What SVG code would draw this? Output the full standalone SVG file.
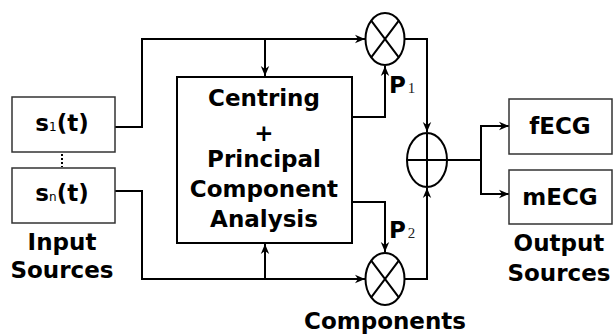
<svg xmlns="http://www.w3.org/2000/svg" width="614" height="336" viewBox="0 0 614 336">
<style>
.box{fill:#fff;stroke:#333;stroke-width:1.5}
.main{fill:#fff;stroke:#000;stroke-width:2}
.ln{fill:none;stroke:#000;stroke-width:2}
.op{fill:#fff;stroke:#000;stroke-width:2}
.t{font-family:"DejaVu Sans",Verdana,sans-serif;font-weight:bold;font-size:23px;fill:#000;text-anchor:middle}
.sub{font-family:"DejaVu Sans",Verdana,sans-serif;font-weight:normal;font-size:12px}
.psub{font-family:"Liberation Serif","Times New Roman",serif;font-weight:normal;font-size:15px;fill:#222}
</style>
<defs>
<marker id="ar" viewBox="0 0 10 10" refX="10" refY="5" markerWidth="10" markerHeight="10" markerUnits="userSpaceOnUse" orient="auto">
<path d="M0,0.8 L10,5 L0,9.2 L3,5 Z" fill="#000"/>
</marker>
</defs>
<g id="connectors">
<path class="ln" d="M115,127 H142 V39 H365" marker-end="url(#ar)"/>
<path class="ln" d="M265,39 V76" marker-end="url(#ar)"/>
<path class="ln" d="M115,191 H142 V279 H365" marker-end="url(#ar)"/>
<path class="ln" d="M265,279 V244" marker-end="url(#ar)"/>
<path class="ln" d="M352,117 H385 V66" marker-end="url(#ar)"/>
<path class="ln" d="M352,202 H385 V252" marker-end="url(#ar)"/>
<path class="ln" d="M405,39 H427 V132" marker-end="url(#ar)"/>
<path class="ln" d="M405,279 H427 V188" marker-end="url(#ar)"/>
<path class="ln" d="M447,160 H481 V126 H509" marker-end="url(#ar)"/>
<path class="ln" d="M481,160 V194 H509" marker-end="url(#ar)"/>
<path d="M62,154 V167" fill="none" stroke="#000" stroke-width="2" stroke-dasharray="2,2"/>
</g>
<g id="s1">
<rect class="box" x="12" y="97" width="103" height="55"/>
<text class="t" x="62" y="131" font-size="24">s<tspan class="sub">1</tspan>(t)</text>
</g>
<g id="sn">
<rect class="box" x="12" y="168" width="103" height="55"/>
<text class="t" x="62" y="201" font-size="24">s<tspan class="sub">n</tspan>(t)</text>
</g>
<g id="input-label">
<text class="t" x="62" y="250" font-size="24">Input</text>
<text class="t" x="62" y="278" font-size="24">Sources</text>
</g>
<g id="pca">
<rect class="main" x="177" y="77" width="175" height="166"/>
<text class="t" x="264" y="106">Centring</text>
<text class="t" x="264" y="141">+</text>
<text class="t" x="264" y="167">Principal</text>
<text class="t" x="264" y="197">Component</text>
<text class="t" x="264" y="227">Analysis</text>
</g>
<g id="mult1">
<ellipse class="op" cx="385" cy="39" rx="19.5" ry="26"/>
<path class="ln" d="M371.2,20.6 L398.8,57.4 M398.8,20.6 L371.2,57.4"/>
<text class="t" x="389" y="93" style="text-anchor:start">P<tspan class="psub" dx="2">1</tspan></text>
</g>
<g id="mult2">
<ellipse class="op" cx="385" cy="279" rx="19.5" ry="26"/>
<path class="ln" d="M371.2,260.6 L398.8,297.4 M398.8,260.6 L371.2,297.4"/>
<text class="t" x="389" y="238" style="text-anchor:start">P<tspan class="psub" dx="2">2</tspan></text>
<text class="t" x="385" y="329">Components</text>
</g>
<g id="adder">
<ellipse class="op" cx="427" cy="160" rx="20" ry="27"/>
<path class="ln" d="M407,160 H447 M427,133 V187"/>
</g>
<g id="fecg">
<rect class="box" x="509" y="99" width="103" height="55"/>
<text class="t" x="560" y="134">fECG</text>
</g>
<g id="mecg">
<rect class="box" x="509" y="170" width="103" height="54"/>
<text class="t" x="560" y="205">mECG</text>
</g>
<g id="output-label">
<text class="t" x="559" y="251">Output</text>
<text class="t" x="559" y="281">Sources</text>
</g>
</svg>
